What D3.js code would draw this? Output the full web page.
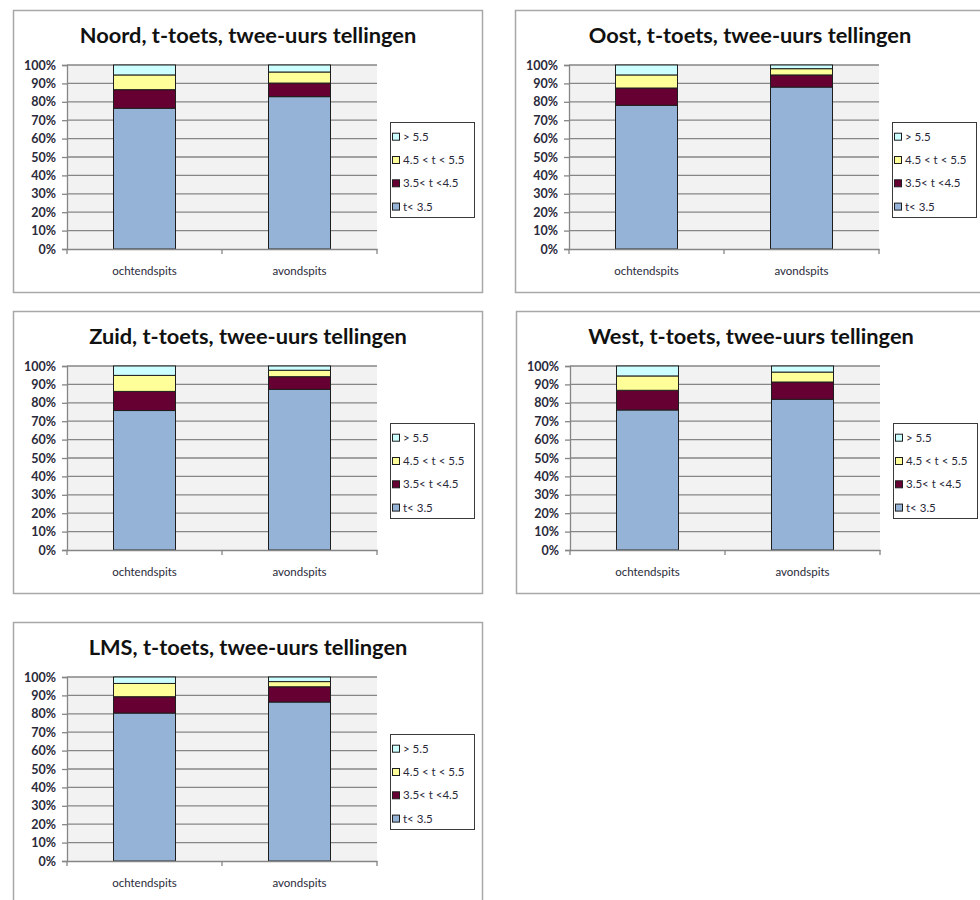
<!DOCTYPE html>
<html>
<head>
<meta charset="utf-8">
<script src="https://cdn.jsdelivr.net/npm/d3@7"></script>
<style>
  html, body { margin: 0; padding: 0; background: #ffffff; }
  svg { display: block; }
  text { font-family: Lato, "Open Sans", "DejaVu Sans", sans-serif; }
</style>
</head>
<body>
<svg id="chart" width="980" height="900"></svg>
<script>
// ---- data ----
const periods = ["ochtendspits", "avondspits"];
const seriesNames = ["t< 3.5", "3.5< t <4.5", "4.5 < t < 5.5", "> 5.5"];
const seriesColors = ["#95b3d7", "#660033", "#ffff99", "#ccffff"];
const yTicks = [0, 10, 20, 30, 40, 50, 60, 70, 80, 90, 100];

// values in % per period: [t<3.5, 3.5<t<4.5, 4.5<t<5.5, >5.5]
const noord = [[76.5, 10.1, 8.0, 5.4], [82.8, 7.4, 6.0, 3.8]];
const oost  = [[78.1, 9.4, 7.1, 5.4], [88.0, 6.6, 3.4, 2.0]];
const zuid  = [[75.8, 10.4, 8.7, 5.1], [87.3, 6.9, 3.5, 2.3]];
const west  = [[76.1, 10.7, 7.8, 5.4], [81.9, 9.4, 5.4, 3.3]];
const lms   = [[80.4, 8.9, 7.2, 3.5], [86.4, 8.3, 2.8, 2.5]];

const panelTitles = ["Noord, t-toets, twee-uurs tellingen", "Oost, t-toets, twee-uurs tellingen",
  "Zuid, t-toets, twee-uurs tellingen", "West, t-toets, twee-uurs tellingen", "LMS, t-toets, twee-uurs tellingen"];
const panelData = [noord, oost, zuid, west, lms];

// ---- layout ----
const panelPos = [[13, 10], [515, 10], [13, 311], [516, 311], [13, 622]];
const PW = 469, PH = 282;
const plot = { l: 54, r: 364, t: 55, b: 239 };

const svg = d3.select("#chart");

panelData.forEach((vals, i) => {
  const [px, py] = panelPos[i];
  const g = svg.append("g").attr("transform", `translate(${px},${py})`);

  g.append("rect").attr("x", 0.5).attr("y", 0.5).attr("width", PW).attr("height", PH)
    .attr("fill", "#ffffff").attr("stroke", "#a8a8a8").attr("stroke-width", 1.5);

  g.append("text").attr("x", PW / 2 + 0.5).attr("y", 33).attr("text-anchor", "middle")
    .attr("font-size", 21.8).attr("font-weight", "bold").attr("fill", "#111111")
    .text(panelTitles[i]);

  const x = d3.scaleBand().domain(periods).range([plot.l, plot.r]);
  const y = d3.scaleLinear().domain([0, 100]).range([plot.b, plot.t]);
  const barW = x.bandwidth() / 2.5;

  g.append("rect").attr("x", plot.l).attr("y", plot.t)
    .attr("width", plot.r - plot.l).attr("height", plot.b - plot.t).attr("fill", "#f2f2f2");

  g.append("g").selectAll("line").data(yTicks.filter(d => d > 0)).join("line")
    .attr("x1", plot.l).attr("x2", plot.r)
    .attr("y1", d => y(d)).attr("y2", d => y(d))
    .attr("stroke", "#868686").attr("stroke-width", 1.3);

  const rows = periods.map((p, j) => {
    const o = { period: p };
    seriesNames.forEach((s, k) => { o[s] = vals[j][k]; });
    return o;
  });
  const stacked = d3.stack().keys(seriesNames)(rows);

  g.append("g").selectAll("g").data(stacked).join("g")
    .attr("fill", (d, k) => seriesColors[k])
    .selectAll("rect").data(d => d).join("rect")
    .attr("x", d => x(d.data.period) + (x.bandwidth() - barW) / 2)
    .attr("width", barW)
    .attr("y", d => y(d[1]))
    .attr("height", d => y(d[0]) - y(d[1]))
    .attr("stroke", "#1e1e1e").attr("stroke-width", 1);

  // y axis
  const ya = g.append("g").attr("transform", `translate(${plot.l},0)`)
    .call(d3.axisLeft(y).tickValues(yTicks).tickFormat(d => d + "%").tickSize(5).tickPadding(6));
  ya.select(".domain").attr("stroke", "#868686").attr("stroke-width", 1.3);
  ya.selectAll(".tick line").attr("stroke", "#868686").attr("stroke-width", 1.3);
  ya.selectAll(".tick text").attr("font-size", 12.5).attr("font-weight", "bold")
    .attr("fill", "#2a2a3a").attr("font-family", "Lato, sans-serif");

  // x axis
  const xa = g.append("g").attr("transform", `translate(0,${plot.b})`)
    .call(d3.axisBottom(x).tickSize(0).tickPadding(18));
  xa.select(".domain").attr("stroke", "#868686").attr("stroke-width", 1.3);
  xa.selectAll(".tick text").attr("font-size", 11.5).attr("fill", "#2a2a3a")
    .attr("font-family", "Lato, sans-serif");
  g.append("g").selectAll("line").data([plot.l, (plot.l + plot.r) / 2, plot.r]).join("line")
    .attr("x1", d => d).attr("x2", d => d).attr("y1", plot.b).attr("y2", plot.b + 5)
    .attr("stroke", "#868686").attr("stroke-width", 1.3);

  // legend
  const lg = g.append("g").attr("transform", "translate(377,112)");
  lg.append("rect").attr("x", 0.5).attr("y", 0.5).attr("width", 84).attr("height", 95)
    .attr("fill", "#ffffff").attr("stroke", "#3a3a3a").attr("stroke-width", 1);
  const legendOrder = seriesNames.map((s, k) => k).reverse();
  const li = lg.selectAll("g.item").data(legendOrder).join("g").attr("class", "item")
    .attr("transform", (k, r) => `translate(0,${14.7 + r * 23.3})`);
  li.append("rect").attr("x", 2.5).attr("y", -3.5).attr("width", 7).attr("height", 7)
    .attr("fill", k => seriesColors[k]).attr("stroke", "#1e1e1e").attr("stroke-width", 1);
  li.append("text").attr("x", 13).attr("y", 4).attr("font-size", 11.5).attr("fill", "#2a2a3a")
    .text(k => seriesNames[k]);
});
</script>
</body>
</html>
